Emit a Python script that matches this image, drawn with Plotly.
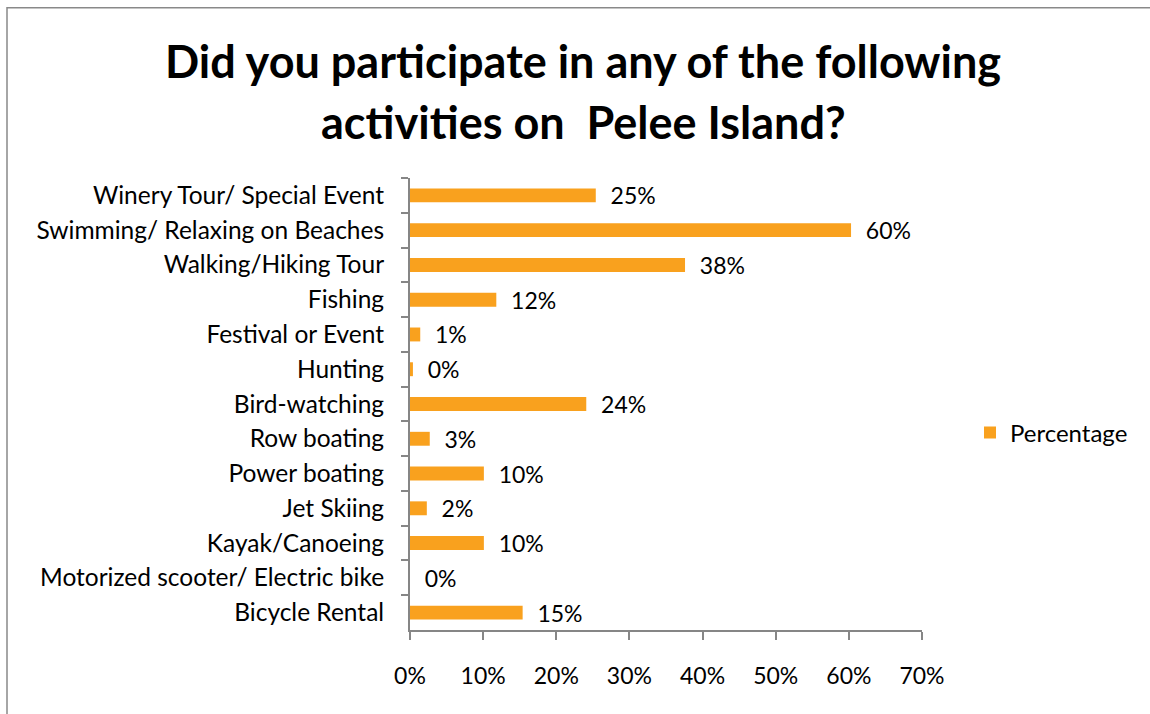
import plotly.graph_objects as go

# Survey responses: share of visitors who took part in each activity
activities = [
    "Winery Tour/ Special Event",
    "Swimming/ Relaxing on Beaches",
    "Walking/Hiking Tour",
    "Fishing",
    "Festival or Event",
    "Hunting",
    "Bird-watching",
    "Row boating",
    "Power boating",
    "Jet Skiing",
    "Kayak/Canoeing",
    "Motorized scooter/ Electric bike",
    "Bicycle Rental",
]
percentages = [25.4, 60.3, 37.6, 11.8, 1.4, 0.4, 24.1, 2.7, 10.1, 2.3, 10.1, 0.0, 15.4]
x_ticks = [0, 10, 20, 30, 40, 50, 60, 70]
x_tick_labels = [f"{v}%" for v in x_ticks]
title_lines = [
    "Did you participate in any of the following",
    "activities on  Pelee Island?",
]

BAR = "#F9A11E"
AXIS = "#868686"
FONT = "Lato, 'Open Sans', sans-serif"
W, H = 1150, 714
L, R, T, B = 410, 228, 177.6, 83.6
pw, ph = W - L - R, H - T - B

fig = go.Figure(
    go.Bar(
        x=percentages,
        y=activities,
        orientation="h",
        name="Percentage",
        marker=dict(color=BAR, line=dict(width=0)),
        texttemplate="\u00a0\u00a0%{x:.0f}%",
        textposition="outside",
        constraintext="none",
        textfont=dict(size=23, color="#000000", family=FONT),
        cliponaxis=False,
        showlegend=True,
    )
)

# Two-line bold title, each line placed on its own
title_annotations = [
    dict(
        text=f"<b>{line}</b>",
        xref="paper",
        yref="paper",
        x=(583 - L) / pw,
        y=(H - B - cy) / ph,
        xanchor="center",
        yanchor="middle",
        showarrow=False,
        font=dict(size=45, family=FONT, color="#000000"),
    )
    for line, cy in zip(title_lines, [60, 122])
]

fig.update_layout(
    width=W,
    height=H,
    margin=dict(l=L, r=R, t=T, b=B, autoexpand=False),
    paper_bgcolor="white",
    plot_bgcolor="white",
    font=dict(family=FONT, size=23, color="#000000"),
    bargap=0.6,
    annotations=title_annotations,
    legend=dict(
        x=(970 - L) / pw,
        xanchor="left",
        y=(H - B - 433) / ph,
        yanchor="middle",
        font=dict(size=24, family=FONT),
        bgcolor="rgba(0,0,0,0)",
        itemwidth=30,
    ),
    xaxis=dict(
        range=[0, 70],
        tickvals=x_ticks,
        ticktext=x_tick_labels,
        showgrid=False,
        zeroline=False,
        showline=True,
        linecolor=AXIS,
        linewidth=2,
        ticks="outside",
        ticklen=8,
        tickwidth=2,
        tickcolor=AXIS,
        ticklabelstandoff=16,
        tickfont=dict(size=23),
        fixedrange=True,
    ),
    yaxis=dict(
        autorange="reversed",
        showgrid=False,
        showline=True,
        linecolor=AXIS,
        linewidth=2,
        ticks="outside",
        tickson="boundaries",
        ticklen=7,
        tickwidth=2,
        tickcolor=AXIS,
        ticklabelstandoff=19,
        tickfont=dict(size=24.5),
        fixedrange=True,
    ),
    shapes=[
        dict(
            type="rect",
            xref="paper",
            yref="paper",
            x0=(7 - L) / pw,
            x1=(W + 10 - L) / pw,
            y0=(H - B - (H + 10)) / ph,
            y1=(H - B - 7) / ph,
            line=dict(color="#898989", width=1.5),
            layer="below",
        )
    ],
)

fig.write_html("out.html")
